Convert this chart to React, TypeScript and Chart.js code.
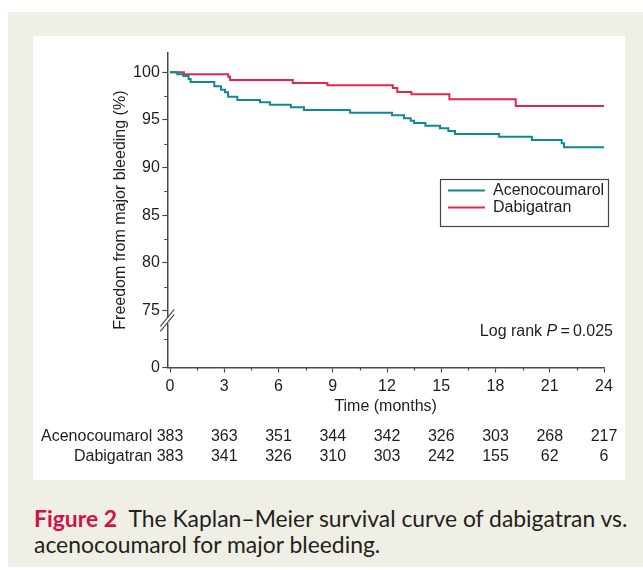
import React, { useEffect, useRef } from 'react';
import { Chart, registerables } from 'chart.js';

Chart.register(...registerables);

// ---- data ----
const acenoTimes = [0, 0.4, 0.74, 1.03, 1.14, 2.45, 2.82, 3.04, 3.21, 3.72, 4.98, 5.53, 6.68, 7.41, 9.96, 12.28, 12.94, 13.31, 13.5, 14.12, 14.93, 15.39, 15.76, 18.2, 20.01, 21.66, 21.79, 24];
const acenoSurv = [100, 99.79, 99.61, 99.3, 98.98, 98.53, 98.17, 97.9, 97.44, 97.09, 96.85, 96.6, 96.32, 96.04, 95.76, 95.48, 95.17, 94.92, 94.67, 94.39, 94.12, 93.83, 93.52, 93.24, 92.89, 92.54, 92.12, 92.12];
const dabiTimes = [0, 0.77, 3.22, 3.32, 6.79, 8.7, 12.32, 12.57, 13.35, 15.45, 19.12, 24];
const dabiSurv = [100, 99.79, 99.54, 99.19, 98.88, 98.63, 98.35, 97.93, 97.69, 97.16, 96.46, 96.46];

const riskTimes = [0, 3, 6, 9, 12, 15, 18, 21, 24];
const riskAceno = [383, 363, 351, 344, 342, 326, 303, 268, 217];
const riskDabi = [383, 341, 326, 310, 303, 242, 155, 62, 6];

const xMajorTicks = [0, 3, 6, 9, 12, 15, 18, 21, 24];
const xMinorTicks = [1.5, 4.5, 7.5, 10.5, 13.5, 16.5, 19.5, 22.5];
const yMajorTicks = [75, 80, 85, 90, 95, 100];
const yMinorTicks = [77.5, 82.5, 87.5, 92.5, 97.5];
// broken axis: the "0" of the lower segment is drawn at display position 69
const Y_ZERO_POS = 69;
const Y_LOWER_MINOR = 72;
const Y_BREAK = 73.95;

const seriesNames = ['Acenocoumarol', 'Dabigatran'];
const TEAL = '#0f8a95';
const RED = '#e3284c';
const AXIS = '#4a4a4a';
const TEXT = '#1e1e1e';
const FONT = "'Liberation Sans', Arial, Helvetica, sans-serif";
const FS = 16;

const overlayPlugin = {
  id: 'overlay',
  afterDraw(chart: any) {
    const { ctx, chartArea } = chart;
    const xs = chart.scales.x;
    const ys = chart.scales.y;
    ctx.save();
    // minor ticks
    ctx.strokeStyle = AXIS;
    ctx.lineWidth = 1.2;
    ctx.beginPath();
    xMinorTicks.forEach((v) => {
      const px = Math.round(xs.getPixelForValue(v)) + 0.5;
      ctx.moveTo(px, chartArea.bottom);
      ctx.lineTo(px, chartArea.bottom + 3);
    });
    [...yMinorTicks, Y_LOWER_MINOR].forEach((v) => {
      const py = Math.round(ys.getPixelForValue(v)) + 0.5;
      ctx.moveTo(chartArea.left - 3, py);
      ctx.lineTo(chartArea.left, py);
    });
    ctx.stroke();

    // axis break
    const x0 = chartArea.left;
    const yc = ys.getPixelForValue(Y_BREAK);
    ctx.fillStyle = '#ffffff';
    ctx.fillRect(x0 - 2, yc - 3, 4, 6);
    ctx.strokeStyle = AXIS;
    ctx.lineWidth = 1.2;
    ctx.beginPath();
    [-2.4, 2.4].forEach((off) => {
      ctx.moveTo(x0 - 7, yc + off + 8.5);
      ctx.lineTo(x0 + 7, yc + off - 8.5);
    });
    ctx.stroke();

    // legend
    const bx = chartArea.right - 164;
    const by = chartArea.top + 126.3;
    const bw = 168;
    const bh = 47;
    ctx.strokeStyle = '#444444';
    ctx.lineWidth = 1.2;
    ctx.strokeRect(bx + 0.5, by + 0.5, bw, bh);
    ctx.font = `${FS}px ${FONT}`;
    ctx.textBaseline = 'middle';
    ctx.textAlign = 'left';
    [TEAL, RED].forEach((c, i) => {
      const ly = by + 11.5 + i * 17;
      ctx.strokeStyle = c;
      ctx.lineWidth = 2;
      ctx.beginPath();
      ctx.moveTo(bx + 8, ly);
      ctx.lineTo(bx + 45, ly);
      ctx.stroke();
      ctx.fillStyle = TEXT;
      ctx.fillText(seriesNames[i], bx + 53, ly + 0.5);
    });

    // log rank text
    const ry = chartArea.bottom - 35.5;
    let rx = chartArea.right + 9;
    ctx.textAlign = 'right';
    ctx.fillStyle = TEXT;
    const part3 = '\u2009=\u20090.025';
    ctx.font = `${FS}px ${FONT}`;
    ctx.fillText(part3, rx, ry);
    rx -= ctx.measureText(part3).width;
    ctx.font = `italic ${FS}px ${FONT}`;
    ctx.fillText('P', rx, ry);
    rx -= ctx.measureText('P').width;
    ctx.font = `${FS}px ${FONT}`;
    ctx.fillText('Log rank ', rx, ry);

    // number at risk
    const rows = [riskAceno, riskDabi];
    rows.forEach((row, r) => {
      const y = chartArea.bottom + 69.5 + r * 20;
      ctx.font = `${FS}px ${FONT}`;
      ctx.textAlign = 'center';
      ctx.fillStyle = TEXT;
      row.forEach((n, i) => {
        ctx.fillText(String(n), xs.getPixelForValue(riskTimes[i]), y);
      });
      const firstW = ctx.measureText(String(row[0])).width;
      const spaceW = ctx.measureText(' ').width;
      ctx.textAlign = 'right';
      ctx.fillText(seriesNames[r], xs.getPixelForValue(riskTimes[0]) - firstW / 2 - spaceW, y);
    });
    ctx.restore();
  },
};

function App() {
  const canvasRef = useRef<HTMLCanvasElement | null>(null);

  useEffect(() => {
    if (!canvasRef.current) return;
    Chart.defaults.font.family = FONT;
    const chart = new Chart(canvasRef.current, {
      type: 'line',
      data: {
        datasets: [
          {
            label: seriesNames[0],
            data: acenoTimes.map((t, i) => ({ x: t, y: acenoSurv[i] })),
            borderColor: TEAL,
            borderWidth: 2,
            pointRadius: 0,
            stepped: 'before',
            fill: false,
          },
          {
            label: seriesNames[1],
            data: dabiTimes.map((t, i) => ({ x: t, y: dabiSurv[i] })),
            borderColor: RED,
            borderWidth: 2,
            pointRadius: 0,
            stepped: 'before',
            fill: false,
          },
        ],
      },
      options: {
        animation: false,
        responsive: false,
        devicePixelRatio: 1,
        layout: { padding: { left: 78, right: 21, top: 16.7, bottom: 64 } },
        plugins: { legend: { display: false }, tooltip: { enabled: false } },
        scales: {
          x: {
            type: 'linear',
            min: -0.15,
            max: 24,
            afterBuildTicks: (s: any) => {
              s.ticks = xMajorTicks.map((v) => ({ value: v }));
            },
            afterFit: (s: any) => {
              s.height = 48.5;
            },
            ticks: {
              autoSkip: false,
              maxRotation: 0,
              padding: 4,
              color: TEXT,
              font: { size: FS },
              callback: (v: any) => String(v),
            },
            grid: {
              drawOnChartArea: false,
              drawTicks: true,
              tickLength: 5,
              tickWidth: 1.2,
              tickColor: AXIS,
            },
            border: { display: true, color: AXIS, width: 1.5 },
            title: { display: true, text: 'Time (months)', color: TEXT, font: { size: FS }, padding: 0 },
          },
          y: {
            type: 'linear',
            min: Y_ZERO_POS,
            max: 102.06,
            afterBuildTicks: (s: any) => {
              s.ticks = [Y_ZERO_POS, ...yMajorTicks].map((v) => ({ value: v }));
            },
            afterFit: (s: any) => {
              s.width = 56.3;
            },
            ticks: {
              autoSkip: false,
              padding: 2.5,
              color: TEXT,
              font: { size: FS },
              callback: (v: any) => (v === Y_ZERO_POS ? '0' : String(v)),
            },
            grid: {
              drawOnChartArea: false,
              drawTicks: true,
              tickLength: 5,
              tickWidth: 1.2,
              tickColor: AXIS,
            },
            border: { display: true, color: AXIS, width: 1.5 },
            title: {
              display: true,
              text: 'Freedom from major bleeding (%)',
              color: TEXT,
              font: { size: FS },
              padding: 0,
            },
          },
        },
      },
      plugins: [overlayPlugin],
    } as any);
    return () => chart.destroy();
  }, []);

  return (
    <div
      style={{
        position: 'absolute',
        left: 8,
        top: 12,
        width: 635,
        height: 555,
        background: '#f0efe5',
      }}
    >
      <div
        style={{
          position: 'absolute',
          left: 25,
          top: 24,
          width: 592,
          height: 444,
          background: '#ffffff',
        }}
      >
        <canvas ref={canvasRef} width={592} height={444} style={{ display: 'block', width: 592, height: 444 }} />
      </div>
      <div
        style={{
          position: 'absolute',
          left: 26,
          top: 493,
          width: 609,
          fontFamily: "Lato, 'Open Sans', sans-serif",
          fontSize: 22.9,
          lineHeight: '26px',
          color: '#231f20',
          whiteSpace: 'nowrap',
        }}
      >
        <span style={{ color: '#d31145', fontWeight: 700 }}>Figure 2</span>
        {'\u2002The Kaplan\u2013Meier survival curve of dabigatran vs.'}
        <br />
        acenocoumarol for major bleeding.
      </div>
    </div>
  );
}

export default App;
